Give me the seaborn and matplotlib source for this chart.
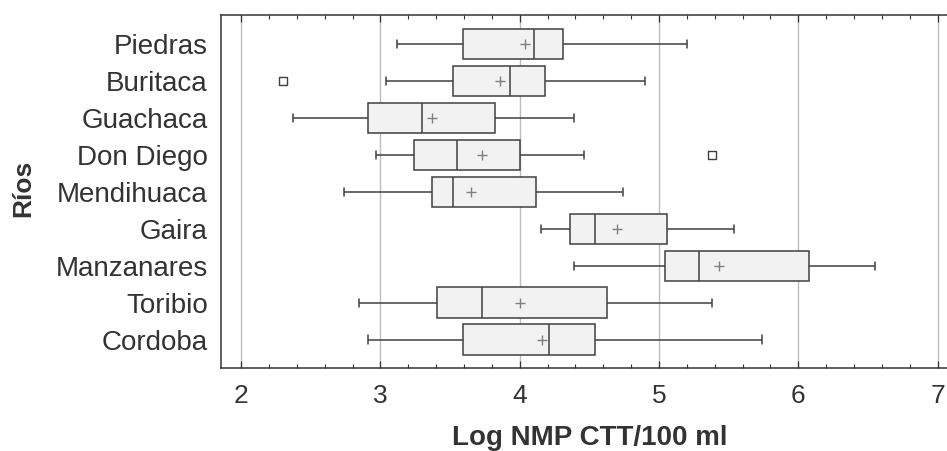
import pandas as pd
import matplotlib
matplotlib.use("Agg")
import matplotlib.pyplot as plt
from matplotlib.ticker import MultipleLocator
import seaborn as sns

# ==========================================
# DATA
# ==========================================
rios = ["Piedras", "Buritaca", "Guachaca", "Don Diego", "Mendihuaca",
        "Gaira", "Manzanares", "Toribio", "Cordoba"]
minimo = [3.12, 3.04, 2.37, 2.97, 2.74, 4.15, 4.39, 2.85, 2.91]
q1 = [3.59, 3.52, 2.91, 3.24, 3.37, 4.36, 5.04, 3.41, 3.59]
mediana = [4.10, 3.93, 3.30, 3.55, 3.52, 4.54, 5.29, 3.73, 4.21]
q3 = [4.31, 4.18, 3.82, 4.00, 4.12, 5.06, 6.08, 4.63, 4.54]
maximo = [5.20, 4.90, 4.39, 4.46, 4.74, 5.54, 6.55, 5.38, 5.74]
media = [4.04, 3.86, 3.37, 3.73, 3.65, 4.70, 5.43, 4.00, 4.16]
atipico_rio = ["Buritaca", "Don Diego"]
atipico_valor = [2.30, 5.38]

# tabla larga para seaborn (cinco numeros por rio)
filas = []
for i, r in enumerate(rios):
    for v in (minimo[i], q1[i], mediana[i], q3[i], maximo[i]):
        filas.append({"rio": r, "valor": v})
df = pd.DataFrame(filas)
df_media = pd.DataFrame({"rio": rios, "valor": media})
df_atip = pd.DataFrame({"rio": atipico_rio, "valor": atipico_valor})

# ==========================================
# FIGURE
# ==========================================
sns.set_style("white")
plt.rcParams["font.family"] = ["Liberation Sans", "DejaVu Sans"]
plt.rcParams["text.color"] = "#333333"

fig = plt.figure(figsize=(9.47, 4.51), dpi=100)
# el marco sigue mas alla del borde derecho, como en el original
ax = fig.add_axes([0.2334, 0.1834, 0.7778, 0.7827])

sns.boxplot(data=df, x="valor", y="rio", order=rios, orient="h",
            whis=(0, 100), width=0.82, color="#f2f2f2", linecolor="#404040",
            linewidth=1.1, showfliers=False, saturation=1, capwidths=0.22,
            ax=ax, zorder=2)

# media (+) y valores atipicos (cuadrado)
sns.scatterplot(data=df_media, x="valor", y="rio", marker="+", s=50,
                color="#808080", linewidth=1.0, ax=ax, zorder=4)
sns.scatterplot(data=df_atip, x="valor", y="rio", marker="s", s=28,
                facecolor="white", edgecolor="#404040", linewidth=1.0,
                ax=ax, zorder=4)

# ==========================================
# AXES
# ==========================================
ax.set_xlim(1.856, 7.144)
ax.set_ylim(8.78, -0.785)
ax.xaxis.set_major_locator(MultipleLocator(1))
ax.xaxis.set_minor_locator(MultipleLocator(0.2))
ax.tick_params(axis="x", which="both", direction="in", top=True, bottom=True,
               colors="#333333", labelsize=19, pad=11)
ax.tick_params(axis="x", which="major", length=5.3, width=0.9)
ax.tick_params(axis="x", which="minor", length=2.9, width=0.8)
ax.tick_params(axis="y", length=0, labelsize=20, pad=9.5, colors="#333333")

ax.grid(axis="x", which="major", color="#bdbdbd", linewidth=1.0)
ax.set_axisbelow(True)
for s in ax.spines.values():
    s.set_color("#333333")
    s.set_linewidth(1.1)
ax.spines["right"].set_visible(False)

ax.set_xlabel("Log NMP CTT/100 ml", fontsize=20, fontweight="bold",
              color="#333333", labelpad=12.5)
ax.set_ylabel("")
fig.text(23 / 947, 1 - 188 / 451, "Ríos", rotation=90, ha="center",
         va="center", fontsize=19, fontweight="bold", color="#333333")

plt.savefig("out.png", dpi=100)
